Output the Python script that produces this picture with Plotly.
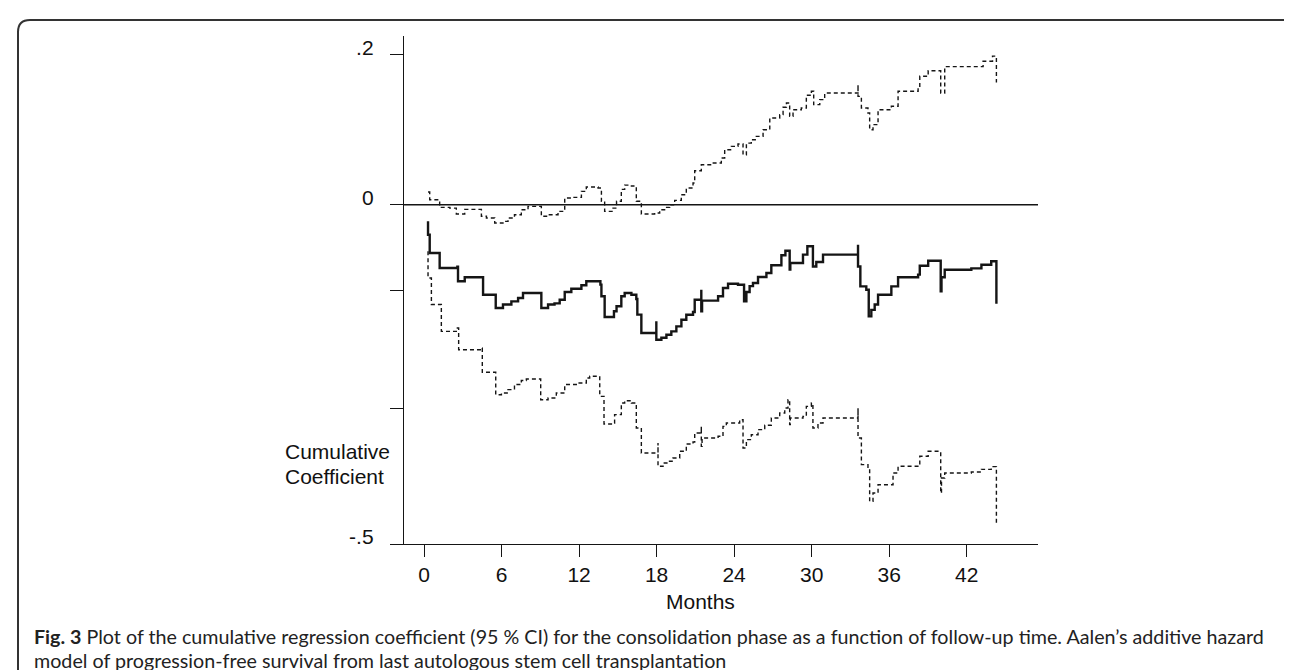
import plotly.graph_objects as go

# ---- data (months, cumulative coefficient) ----
est_t = [0.31, 0.31, 0.44, 1.21, 2.58, 2.63, 3.15, 4.57, 5.55, 6.11, 6.76, 7.28, 7.66, 9.08, 9.6, 10.1,
         10.5, 10.89, 11.4, 12.18, 12.56, 13.65, 13.73, 13.98, 14.7, 14.9, 15.27, 15.53, 16.05, 16.43,
         16.51, 16.82, 17.98, 17.98, 18.37, 18.76, 19.14, 19.53, 19.92, 20.3, 20.82, 20.95, 21.46, 21.46,
         21.52, 22.76, 23.14, 23.53, 24.3, 24.77, 24.95, 25.2, 25.46, 25.85, 26.5, 26.88, 27.66, 27.97,
         28.3, 28.35, 29.33, 29.67, 30.1, 30.36, 30.88, 33.59, 33.59, 33.77, 34.23, 34.42, 34.62, 34.88,
         35.14, 36.17, 36.69, 38.24, 38.37, 39.02, 39.99, 40.05, 40.3, 42.36, 43.14, 43.9, 44.3, 44.3]
est_v = [-0.0245, -0.0442, -0.0712, -0.0933, -0.0913, -0.1129, -0.107, -0.1326, -0.1522, -0.147, -0.1424,
         -0.1375, -0.1301, -0.1522, -0.147, -0.1454, -0.14, -0.1287, -0.1238, -0.1188, -0.1129, -0.1178,
         -0.135, -0.1655, -0.157, -0.1497, -0.135, -0.1301, -0.1326, -0.139, -0.162, -0.189, -0.1718,
         -0.199, -0.196, -0.1916, -0.1867, -0.1793, -0.1695, -0.1621, -0.1582, -0.14, -0.1253, -0.157,
         -0.1414, -0.135, -0.1228, -0.1164, -0.118, -0.1424, -0.1287, -0.12, -0.1154, -0.1066, -0.1006,
         -0.0893, -0.0746, -0.0678, -0.0957, -0.0859, -0.0736, -0.0613, -0.091, -0.0844, -0.0736, -0.059,
         -0.091, -0.1203, -0.1253, -0.1645, -0.155, -0.147, -0.1326, -0.1203, -0.107, -0.103, -0.0899,
         -0.0825, -0.1276, -0.107, -0.0958, -0.0939, -0.0886, -0.0833, -0.0833, -0.146]

up_t = [0.31, 0.44, 1.21, 1.99, 2.5, 3.15, 4.44, 4.83, 5.47, 6.11, 6.5, 7.0, 7.53, 8.05, 9.08, 9.6, 10.37,
        10.89, 11.4, 12.18, 12.56, 13.47, 13.73, 13.98, 14.63, 14.9, 15.27, 15.53, 16.05, 16.43, 16.82,
        17.85, 18.24, 18.62, 19.01, 19.4, 19.91, 20.3, 20.82, 20.95, 21.46, 22.24, 23.01, 23.27, 23.79,
        24.3, 24.69, 24.95, 25.33, 25.72, 26.24, 26.76, 27.53, 27.79, 28.05, 28.3, 28.56, 29.2, 29.59,
        29.98, 30.16, 30.63, 31.01, 33.59, 33.59, 33.85, 34.36, 34.49, 34.75, 35.14, 36.17, 36.69, 38.24,
        38.37, 39.02, 39.99, 40.3, 43.27, 44.0, 44.3, 44.3]
up_v = [0.0187, 0.0074, -0.0039, -0.005, -0.0137, -0.0069, -0.0171, -0.0196, -0.027, -0.0245, -0.0196,
        -0.0147, -0.0074, -0.0025, -0.0171, -0.0147, -0.0098, 0.0099, 0.0108, 0.0197, 0.026, 0.0245, 0.005,
        -0.0098, -0.005, 0.005, 0.0226, 0.0289, 0.0275, 0.005, -0.0137, -0.0123, -0.0074, -0.0039, 0.0,
        0.0064, 0.0147, 0.0246, 0.032, 0.0501, 0.0589, 0.0614, 0.0688, 0.081, 0.0859, 0.0894, 0.0737,
        0.0908, 0.0958, 0.1007, 0.1105, 0.1278, 0.1327, 0.1435, 0.1499, 0.1302, 0.14, 0.1425, 0.1612,
        0.1671, 0.1474, 0.1548, 0.1646, 0.1768, 0.1597, 0.1425, 0.1351, 0.1105, 0.118, 0.14, 0.145,
        0.1671, 0.1719, 0.1892, 0.1975, 0.1646, 0.2035, 0.2115, 0.219, 0.219, 0.18]

lo_t = [0.31, 0.31, 0.57, 1.34, 2.58, 2.68, 4.44, 4.51, 5.55, 5.99, 6.5, 7.0, 7.53, 7.92, 9.03, 9.6, 10.24,
        10.89, 11.92, 12.56, 12.82, 13.6, 13.93, 14.63, 14.75, 15.27, 15.53, 16.05, 16.43, 16.82, 18.11,
        18.11, 18.5, 18.88, 19.27, 19.79, 20.3, 20.82, 20.95, 21.46, 21.46, 21.52, 22.76, 23.14, 23.4,
        24.43, 24.69, 24.95, 25.33, 25.85, 26.37, 26.88, 27.53, 27.92, 28.17, 28.3, 28.35, 29.33, 29.59,
        29.98, 30.1, 30.49, 30.88, 33.59, 33.59, 33.85, 34.36, 34.49, 34.75, 35.14, 36.3, 36.69, 38.37,
        39.02, 39.99, 40.05, 40.3, 42.36, 43.14, 43.9, 44.3, 44.3]
lo_v = [-0.0687, -0.108, -0.147, -0.1866, -0.1817, -0.2137, -0.2112, -0.247, -0.28, -0.2775, -0.2725,
        -0.265, -0.259, -0.2569, -0.2874, -0.2848, -0.2775, -0.265, -0.2627, -0.2553, -0.2529, -0.2824,
        -0.3232, -0.3217, -0.3094, -0.2923, -0.2888, -0.2923, -0.329, -0.3659, -0.351, -0.3855, -0.3806,
        -0.378, -0.3732, -0.3634, -0.3526, -0.3497, -0.3364, -0.327, -0.3561, -0.3438, -0.3413, -0.3266,
        -0.3217, -0.3168, -0.3585, -0.3462, -0.3389, -0.3315, -0.3251, -0.3143, -0.307, -0.2996, -0.2874,
        -0.3241, -0.3143, -0.3119, -0.2972, -0.2923, -0.329, -0.3217, -0.3143, -0.2996, -0.3438, -0.3831,
        -0.388, -0.4371, -0.4249, -0.4126, -0.3954, -0.3855, -0.3708, -0.3634, -0.4249, -0.4028, -0.3954,
        -0.394, -0.39, -0.386, -0.386, -0.47]

x_ticks = [0, 6, 12, 18, 24, 30, 36, 42]
y_tickvals = [0.221, 0, -0.126, -0.3, -0.5]
y_ticktext = [".2", "0", "", "", "-.5"]

caption_bold = "Fig. 3"
caption_line1 = (" Plot of the cumulative regression coefficient (95 % CI) for the consolidation phase "
                 "as a function of follow-up time. Aalen\u2019s additive hazard")
caption_line2 = "model of progression-free survival from last autologous stem cell transplantation"

# ---- figure ----
W, H = 1292, 670
L, R, T, B = 396, 1030, 28, 536
pw, ph = R - L, B - T

def px(x):
    return (x - L) / pw

def py(y):
    return (B - y) / ph

fig = go.Figure()
ink = "#151515"
fig.add_trace(go.Scatter(x=up_t, y=up_v, mode="lines", line_shape="hv",
                         line=dict(color=ink, width=1.4, dash="4px,3px"), showlegend=False))
fig.add_trace(go.Scatter(x=lo_t, y=lo_v, mode="lines", line_shape="hv",
                         line=dict(color=ink, width=1.4, dash="4px,3px"), showlegend=False))
fig.add_trace(go.Scatter(x=est_t, y=est_v, mode="lines", line_shape="hv",
                         line=dict(color=ink, width=2.4), showlegend=False))
fig.add_hline(y=0, line=dict(color=ink, width=1.4))

tickfont = dict(family="Liberation Sans, Arial, sans-serif", size=21, color="#111")
fig.update_xaxes(range=[-1.55, 47.52], tickvals=x_ticks, ticks="outside", ticklen=12, tickwidth=1.4,
                 tickcolor=ink, showline=True, linecolor=ink, linewidth=1.4, showgrid=False,
                 zeroline=False, tickfont=tickfont, ticklabelstandoff=0)
fig.update_yaxes(range=[-0.5, 0.2486], tickvals=y_tickvals, ticktext=y_ticktext, ticks="outside",
                 ticklen=13, tickwidth=1.4, tickcolor=ink, showline=True, linecolor=ink, linewidth=1.4,
                 showgrid=False, zeroline=False, tickfont=tickfont, ticklabelstandoff=12,
                 ticklabelshift=-7)

ann = []
ann.append(dict(text="Months", x=px(692), y=py(593), xref="paper", yref="paper", showarrow=False,
                xanchor="center", yanchor="middle", font=tickfont))
ann.append(dict(text="Cumulative", x=px(275), y=py(443), xref="paper", yref="paper", showarrow=False,
                xanchor="left", yanchor="middle", font=tickfont))
ann.append(dict(text="Coefficient", x=px(275), y=py(468), xref="paper", yref="paper", showarrow=False,
                xanchor="left", yanchor="middle", font=tickfont))
capfont = dict(family="Lato, Open Sans, sans-serif", size=19.7, color="#222")
ann.append(dict(text="<b>" + caption_bold + "</b>" + caption_line1, x=px(24), y=py(628), xref="paper",
                yref="paper", showarrow=False, xanchor="left", yanchor="middle", font=capfont))
ann.append(dict(text=caption_line2, x=px(24), y=py(652), xref="paper", yref="paper", showarrow=False,
                xanchor="left", yanchor="middle", font=capfont))

# rounded frame (open at the bottom, as in the reference)
xl, xr, yt, yb = px(10), px(1291), py(12), py(720)
dx, dy = 12 / pw, 12 / ph
path = (f"M {xl} {yb} L {xl} {yt - dy} Q {xl} {yt} {xl + dx} {yt} "
        f"L {xr - dx} {yt} Q {xr} {yt} {xr} {yt - dy} L {xr} {yb}")
fig.add_shape(type="path", path=path, xref="paper", yref="paper", line=dict(color="#333", width=2))

fig.update_layout(width=W, height=H, margin=dict(l=L, r=W - R, t=T, b=H - B, autoexpand=False),
                  plot_bgcolor="white", paper_bgcolor="white", annotations=ann)

fig.write_html("out.html")
